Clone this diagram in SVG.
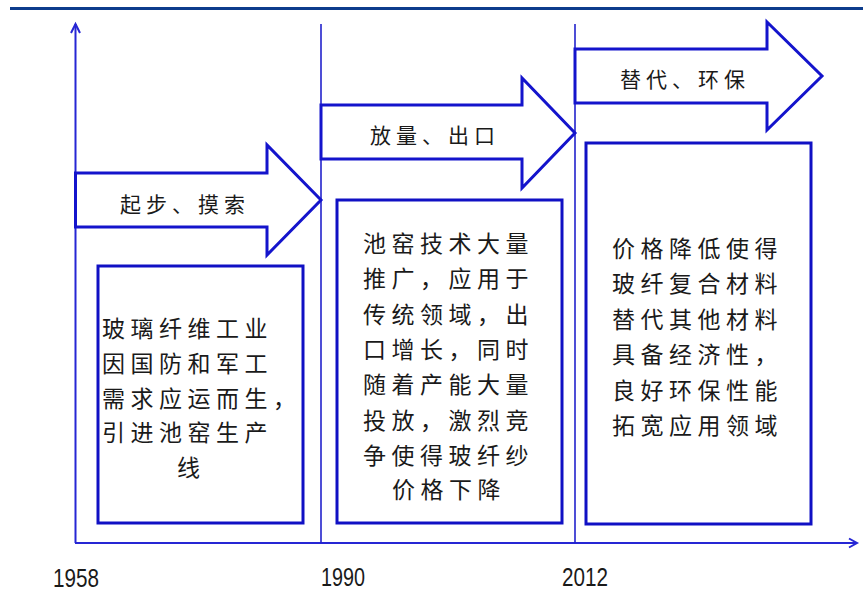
<svg xmlns="http://www.w3.org/2000/svg" width="863" height="605" viewBox="0 0 863 605">
<style>
.bg{fill:#ffffff}
.axis{stroke:#2626d4;stroke-width:2;fill:none}
.div{stroke:#2222cc;stroke-width:1.6;fill:none}
.arrow{fill:#ffffff;stroke:#1414cc;stroke-width:3;stroke-linejoin:miter}
.box{fill:#ffffff;stroke:#1010c4;stroke-width:3}
.cn{font-family:"Noto Sans CJK SC","Noto Sans CJK TC",sans-serif;fill:#1a1a1a}
.lab{font-size:21px;letter-spacing:5px}
.body{font-size:23px;letter-spacing:5.5px}
.yr{font-family:"Liberation Sans",Arial,sans-serif;font-size:25px;fill:#1a1a1a}
</style>
<rect class="bg" x="0" y="0" width="863" height="605"/>
<line x1="10" y1="8.5" x2="863" y2="8.5" stroke="#0d3c8c" stroke-width="3"/>

<g id="connectors">
  <line class="axis" x1="75.5" y1="543" x2="75.5" y2="24"/>
  <polyline class="axis" points="71,33 75.5,24 80,33"/>
  <line class="axis" x1="75" y1="543" x2="857" y2="543"/>
  <polyline class="axis" points="849,538.5 857,543 849,547.5"/>
  <line class="div" x1="321" y1="24" x2="321" y2="543"/>
  <line class="div" x1="575" y1="24" x2="575" y2="543"/>
</g>

<g id="stage1-arrow">
  <polygon class="arrow" points="75.5,173 267,173 267,145 321,200 267,255 267,227 75.5,227"/>
  <text class="cn lab" x="120" y="212">起步、摸索</text>
</g>
<g id="stage2-arrow">
  <polygon class="arrow" points="321,105 522,105 522,78 575,133 522,188 522,159 321,159"/>
  <text class="cn lab" x="370" y="143">放量、出口</text>
</g>
<g id="stage3-arrow">
  <polygon class="arrow" points="575,49 767,49 767,22 822,76 767,130 767,103 575,103"/>
  <text class="cn lab" x="620" y="87">替代、环保</text>
</g>

<g id="stage1-box">
  <rect class="box" x="98" y="266" width="205" height="257"/>
  <text class="cn body" x="102" y="337">玻璃纤维工业</text>
  <text class="cn body" x="102" y="372">因国防和军工</text>
  <text class="cn body" x="102" y="406.5">需求应运而生，</text>
  <text class="cn body" x="102" y="441">引进池窑生产</text>
  <text class="cn body" x="177" y="476">线</text>
</g>
<g id="stage2-box">
  <rect class="box" x="337" y="200" width="225" height="323"/>
  <text class="cn body" x="363" y="252">池窑技术大量</text>
  <text class="cn body" x="363" y="287.3">推广，应用于</text>
  <text class="cn body" x="363" y="322.6">传统领域，出</text>
  <text class="cn body" x="363" y="357.9">口增长，同时</text>
  <text class="cn body" x="363" y="393.2">随着产能大量</text>
  <text class="cn body" x="363" y="428.5">投放，激烈竞</text>
  <text class="cn body" x="363" y="463.8">争使得玻纤纱</text>
  <text class="cn body" x="392" y="498">价格下降</text>
</g>
<g id="stage3-box">
  <rect class="box" x="586" y="143" width="225" height="381"/>
  <text class="cn body" x="612" y="257">价格降低使得</text>
  <text class="cn body" x="612" y="292.4">玻纤复合材料</text>
  <text class="cn body" x="612" y="327.8">替代其他材料</text>
  <text class="cn body" x="612" y="363.2">具备经济性，</text>
  <text class="cn body" x="612" y="398.6">良好环保性能</text>
  <text class="cn body" x="612" y="434">拓宽应用领域</text>
</g>

<g id="year-labels">
  <text class="yr" x="53" y="587" textLength="46" lengthAdjust="spacingAndGlyphs">1958</text>
  <text class="yr" x="321" y="586" textLength="44" lengthAdjust="spacingAndGlyphs">1990</text>
  <text class="yr" x="562" y="586" textLength="46" lengthAdjust="spacingAndGlyphs">2012</text>
</g>
</svg>
